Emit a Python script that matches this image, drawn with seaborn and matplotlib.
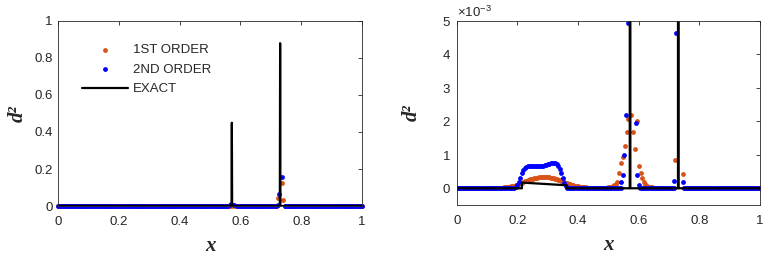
import numpy as np
import pandas as pd
import seaborn as sns
import matplotlib.pyplot as plt
from matplotlib.ticker import FuncFormatter, ScalarFormatter

# sample positions of the two numerical solutions (uniform mesh)
grid_x = np.round(np.arange(0, 1.0001, 0.005), 3)

# --- 1st order scheme: non-zero part, values in units of 1e-3 ---
first_bump_x = np.round(np.arange(0.13, 0.5251, 0.005), 3)
first_bump_y = [0.01, 0.01, 0.015, 0.02, 0.02, 0.025, 0.03, 0.035, 0.04, 0.05,
                0.06, 0.07, 0.08, 0.095, 0.11, 0.13, 0.15, 0.17, 0.19, 0.21,
                0.23, 0.25, 0.265, 0.28, 0.29, 0.30, 0.31, 0.32, 0.325, 0.33,
                0.335, 0.335, 0.335, 0.335, 0.33, 0.325, 0.32, 0.31, 0.30, 0.29,
                0.275, 0.26, 0.245, 0.23, 0.21, 0.19, 0.17, 0.15, 0.13, 0.115,
                0.10, 0.085, 0.075, 0.065, 0.055, 0.045, 0.04, 0.035, 0.03, 0.025,
                0.02, 0.02, 0.015, 0.01, 0.01, 0.005, 0.005, 0.005, 0.005, 0.005,
                0.01, 0.01, 0.015, 0.02, 0.025, 0.03, 0.04, 0.06, 0.09, 0.13]
first_peak_x = [0.530, 0.535, 0.542, 0.548, 0.555, 0.560, 0.564, 0.573, 0.581,
                0.587, 0.595, 0.601, 0.606, 0.611, 0.617, 0.622, 0.628, 0.633,
                0.639, 0.645, 0.650,
                0.720, 0.725, 0.738, 0.741, 0.745]
first_peak_y = [0.19, 0.46, 0.77, 0.92, 1.27, 1.67, 2.06, 2.18, 1.67,
                1.17, 2.0, 0.67, 0.47, 0.3, 0.2, 0.12, 0.08, 0.05,
                0.04, 0.03, 0.02,
                0.84, 41.0, 126.0, 32.0, 0.42]
first_windows = [(0.13, 0.65), (0.72, 0.745)]

# --- 2nd order scheme: non-zero part, values in units of 1e-3 ---
second_bump_x = np.round(np.arange(0.185, 0.3651, 0.005), 3)
second_bump_y = [0.01, 0.02, 0.05, 0.1, 0.2, 0.32, 0.45, 0.55, 0.61, 0.64,
                 0.66, 0.67, 0.67, 0.68, 0.68, 0.68, 0.68, 0.68, 0.68, 0.68,
                 0.68, 0.69, 0.70, 0.72, 0.74, 0.75, 0.76, 0.76, 0.75, 0.72,
                 0.67, 0.58, 0.45, 0.3, 0.15, 0.06, 0.02]
second_peak_x = [0.541, 0.549, 0.553, 0.559, 0.564, 0.569, 0.578, 0.590, 0.595, 0.601,
                 0.717, 0.722, 0.727, 0.736, 0.745]
second_peak_y = [0.18, 0.4, 0.98, 2.2, 4.93, 12.0, 8.0, 1.95, 0.39, 0.1,
                 0.22, 4.63, 63.0, 155.0, 0.19]
second_windows = [(0.185, 0.365), (0.541, 0.601), (0.717, 0.745)]

# --- exact solution ---
exact_x = [0, 0.215, 0.215, 0.362, 0.362, 0.5705, 0.5715, 0.5725, 0.7295, 0.7305, 0.7315, 1]
exact_y = [0, 0, 0.17e-3, 0.09e-3, 0, 0, 0.45, 0, 0, 0.88, 0, 0]

ORANGE = '#D95319'
BLUE = '#0000FF'
AXCOL = '#262626'


def assemble(xs, ys, windows):
    keep = np.ones(len(grid_x), dtype=bool)
    for lo, hi in windows:
        keep &= ~((grid_x >= lo - 1e-9) & (grid_x <= hi + 1e-9))
    x = np.concatenate([grid_x[keep], np.concatenate(xs)])
    y = np.concatenate([np.zeros(keep.sum()), np.concatenate(ys) * 1e-3])
    order = np.argsort(x, kind='stable')
    return pd.DataFrame({'x': x[order], 'y': y[order]})


first = assemble([first_bump_x, first_peak_x], [first_bump_y, first_peak_y], first_windows)
second = assemble([second_bump_x, second_peak_x], [second_bump_y, second_peak_y], second_windows)
exact = pd.DataFrame({'x': exact_x, 'y': exact_y})

sns.set_style('white')
plt.rcParams['font.family'] = ['Liberation Sans', 'DejaVu Sans']
plt.rcParams['mathtext.fontset'] = 'custom'
plt.rcParams['mathtext.rm'] = 'Liberation Sans'
plt.rcParams['mathtext.it'] = 'Liberation Sans:italic'

fig = plt.figure(figsize=(7.63, 2.56), dpi=100)
ax1 = fig.add_axes([0.0764, 0.1953, 0.398, 0.7227])
ax2 = fig.add_axes([0.5986, 0.1992, 0.3975, 0.71875])

label_kw = dict(fontsize=15, family='Liberation Serif', style='italic', weight='bold')

for ax, clip in [(ax1, False), (ax2, True)]:
    sns.scatterplot(data=first, x='x', y='y', ax=ax, color=ORANGE, s=12,
                    linewidth=0, clip_on=clip, label='1ST ORDER')
    sns.scatterplot(data=second, x='x', y='y', ax=ax, color=BLUE, s=12,
                    linewidth=0, clip_on=clip, label='2ND ORDER')
    sns.lineplot(data=exact, x='x', y='y', ax=ax, color='black', linewidth=1.6,
                 sort=False, estimator=None, label='EXACT')
    ax.set_xlim(0, 1)
    ax.set_xticks([0, 0.2, 0.4, 0.6, 0.8, 1])
    ax.xaxis.set_major_formatter(FuncFormatter(lambda v, p: f'{v:g}'))
    ax.tick_params(direction='in', top=True, right=True, length=3, width=0.6,
                   labelsize=9.5, colors=AXCOL, pad=4)
    ax.tick_params(axis='x', pad=7)
    for sp in ax.spines.values():
        sp.set_color(AXCOL)
        sp.set_linewidth(0.6)
    ax.set_xlabel('x', labelpad=6, **label_kw)

ax1.set_ylabel('d²', labelpad=5, **label_kw)
ax2.set_ylabel('d²', labelpad=15, **label_kw)

ax1.set_ylim(0, 1)
ax1.set_yticks([0, 0.2, 0.4, 0.6, 0.8, 1])
ax1.yaxis.set_major_formatter(FuncFormatter(lambda v, p: f'{v:g}'))
handles, labels = ax1.get_legend_handles_labels()
ax1.legend(handles, labels, loc='upper left', bbox_to_anchor=(0.078, 0.875),
           frameon=False, fontsize=9.5, handlelength=3.5, handletextpad=0.38,
           labelspacing=0.55, borderaxespad=0, borderpad=0)

ax2.set_ylim(-0.5e-3, 5e-3)
ax2.set_yticks([0, 1e-3, 2e-3, 3e-3, 4e-3, 5e-3])
fmt = ScalarFormatter(useMathText=True)
fmt.set_powerlimits((-3, -3))
ax2.yaxis.set_major_formatter(fmt)
ax2.yaxis.get_offset_text().set_fontsize(9.5)
ax2.yaxis.get_offset_text().set_color(AXCOL)
ax2.get_legend().remove()

fig.savefig('out.png', dpi=100)
